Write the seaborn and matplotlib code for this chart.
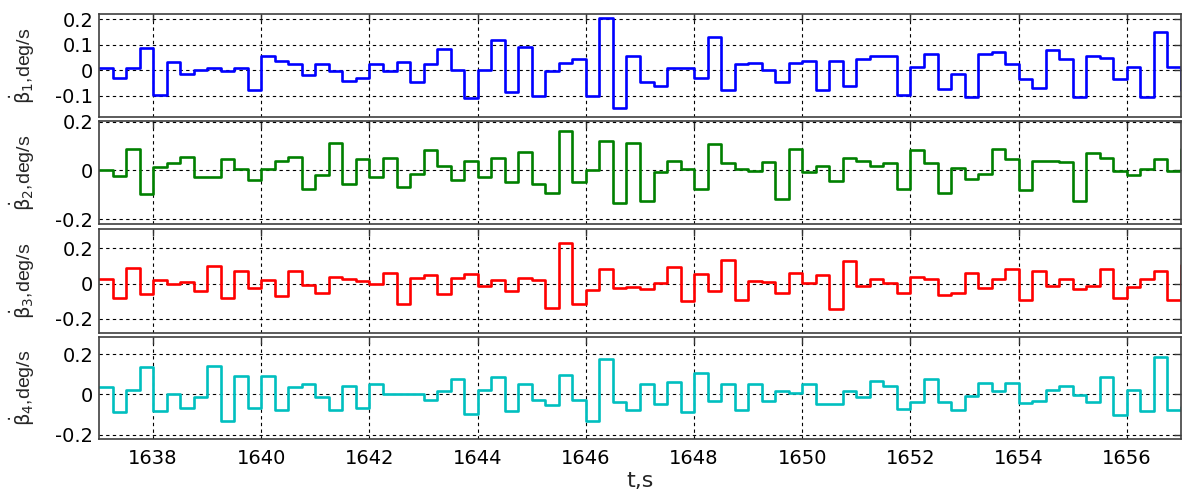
import numpy as np
import pandas as pd
import matplotlib
matplotlib.use("Agg")
import matplotlib.pyplot as plt
import seaborn as sns

# ==============================
# DATA (one value per 0.25 s step)
# ==============================

t_start = 1637.0
t_step = 0.25

beta1 = [0.01, -0.03, 0.01, 0.087, -0.097, 0.032, -0.015, 0.0, 0.01, -0.004,
         0.01, -0.075, 0.055, 0.035, 0.026, -0.02, 0.026, -0.004, -0.043, -0.03,
         0.026, -0.004, 0.032, -0.047, 0.026, 0.084, 0.0, -0.109, 0.0, 0.12,
         -0.084, 0.091, -0.099, -0.004, 0.03, 0.043, -0.099, 0.205, -0.148, 0.056,
         -0.047, -0.062, 0.01, 0.01, -0.029, 0.13, -0.075, 0.023, 0.03, 0.0,
         -0.047, 0.03, 0.035, -0.075, 0.035, -0.062, 0.043, 0.058, 0.058, -0.097,
         0.013, 0.065, -0.071, -0.016, -0.104, 0.062, 0.071, 0.023, -0.032, -0.07,
         0.078, 0.043, -0.104, 0.058, 0.048, -0.032, 0.013, -0.104, 0.149, 0.013,
         -0.075]

beta2 = [0.0, -0.023, 0.089, -0.098, 0.014, 0.03, 0.057, -0.027, -0.027, 0.048,
         0.004, -0.038, 0.004, 0.038, 0.057, -0.077, -0.018, 0.113, -0.057, 0.048,
         -0.025, 0.052, -0.07, -0.016, 0.082, 0.018, -0.041, 0.038, -0.027, 0.052,
         -0.048, 0.075, -0.057, -0.091, 0.163, -0.048, 0.0, 0.122, -0.133, 0.113,
         -0.125, -0.007, 0.038, 0.004, -0.078, 0.109, 0.03, 0.004, -0.003, 0.034,
         -0.116, 0.089, -0.007, 0.018, -0.045, 0.052, 0.038, 0.018, 0.03, -0.078,
         0.082, 0.03, -0.091, 0.011, -0.037, -0.016, 0.086, 0.048, -0.082, 0.038,
         0.038, 0.034, -0.125, 0.071, 0.052, -0.003, -0.02, 0.004, 0.048, -0.003,
         0.089]

beta3 = [0.028, -0.081, 0.091, -0.06, 0.023, -0.004, 0.009, -0.043, 0.1, -0.079,
         0.072, -0.025, 0.023, -0.07, 0.072, -0.009, -0.051, 0.038, 0.025, 0.015,
         -0.004, 0.06, -0.113, 0.032, 0.047, -0.06, 0.032, 0.053, -0.013, 0.023,
         -0.043, 0.032, 0.023, -0.138, 0.232, -0.113, -0.034, 0.085, -0.025, -0.019,
         -0.032, 0.006, 0.094, -0.098, 0.053, -0.043, 0.132, -0.094, 0.015, 0.009,
         -0.051, 0.06, 0.004, 0.047, -0.142, 0.126, -0.015, 0.028, 0.006, -0.053,
         0.038, 0.028, -0.066, -0.051, 0.06, -0.025, 0.025, 0.085, -0.094, 0.072,
         -0.015, 0.028, -0.032, -0.015, 0.085, -0.081, -0.019, 0.025, 0.072, -0.094,
         0.108]

beta4 = [0.036, -0.087, 0.02, 0.138, -0.082, 0.003, -0.066, -0.01, 0.143, -0.132,
         0.089, -0.066, 0.089, -0.079, 0.036, 0.053, -0.01, -0.079, 0.044, -0.066,
         0.053, 0.0, 0.002, 0.003, -0.025, 0.016, 0.077, -0.095, 0.02, 0.086,
         -0.082, 0.053, -0.025, -0.054, 0.094, -0.025, -0.132, 0.176, -0.035, -0.079,
         0.053, -0.046, 0.061, -0.087, 0.105, -0.03, 0.053, -0.079, 0.053, -0.03,
         0.016, 0.008, 0.053, -0.046, -0.046, 0.015, -0.01, 0.069, 0.04, -0.074,
         -0.035, 0.077, -0.038, -0.079, -0.008, 0.056, 0.015, 0.056, -0.041, -0.03,
         0.02, 0.044, -0.005, -0.035, 0.086, -0.099, 0.02, -0.084, 0.184, -0.076,
         -0.06]

series = [beta1, beta2, beta3, beta4]
colors = ["#0000ff", "#008000", "#ff0000", "#00bfbf"]
ylabels = [r"$\dot{\mathrm{\beta}}_1$,deg/s", r"$\dot{\mathrm{\beta}}_2$,deg/s",
           r"$\dot{\mathrm{\beta}}_3$,deg/s", r"$\dot{\mathrm{\beta}}_4$,deg/s"]
yticks = [[-0.1, 0, 0.1, 0.2], [-0.2, 0, 0.2], [-0.2, 0, 0.2], [-0.2, 0, 0.2]]
ytick_labels = [["-0.1", "0", "0.1", "0.2"], ["-0.2", "0", "0.2"],
                ["-0.2", "0", "0.2"], ["-0.2", "0", "0.2"]]
ylims = [(-0.182, 0.22), (-0.22, 0.203), (-0.28, 0.31), (-0.22, 0.284)]
xticks = [1638, 1640, 1642, 1644, 1646, 1648, 1650, 1652, 1654, 1656]

# ==============================
# STYLE
# ==============================

sns.set_style("white")
plt.rcParams["font.family"] = ["DejaVu Sans"]
plt.rcParams["mathtext.fontset"] = "dejavusans"

W, H = 1182, 498
fig = plt.figure(figsize=(W / 100, H / 100), dpi=100)

# panel top / bottom edges in pixels
panels_px = [(14, 117), (121, 224), (229, 333), (337, 439)]
left_px, right_px = 99, 1181

for i, (top, bot) in enumerate(panels_px):
    ax = fig.add_axes([left_px / W, 1 - bot / H,
                       (right_px - left_px) / W, (bot - top) / H])

    n = len(series[i])
    df = pd.DataFrame({
        "t": t_start + t_step * np.arange(n),
        "v": series[i],
    })

    sns.lineplot(data=df, x="t", y="v", ax=ax, color=colors[i],
                 linewidth=1.9, drawstyle="steps-post", estimator=None)

    ax.set_xlim(1637, 1657)
    ax.set_ylim(*ylims[i])
    ax.set_xticks(xticks)
    ax.set_yticks(yticks[i])
    ax.set_yticklabels(ytick_labels[i], fontsize=14)

    if i == 3:
        ax.set_xticklabels([str(x) for x in xticks], fontsize=14)
        ax.set_xlabel("t,s", fontsize=16, labelpad=2)
    else:
        ax.set_xticklabels([])
        ax.set_xlabel("")

    ax.set_ylabel(ylabels[i], fontsize=14, family="Liberation Sans")
    ax.yaxis.set_label_coords(-0.057, 0.5)

    ax.grid(True, color="black", linestyle=(0, (3, 3)), linewidth=0.8)
    ax.tick_params(direction="in", length=5, width=1, top=True, right=True,
                   colors="#333333", labelcolor="black")
    ax.tick_params(axis="x", pad=7)
    ax.tick_params(axis="y", pad=4)
    for sp in ax.spines.values():
        sp.set_color("#404040")
        sp.set_linewidth(1.2)

fig.savefig("out.png", dpi=100)
